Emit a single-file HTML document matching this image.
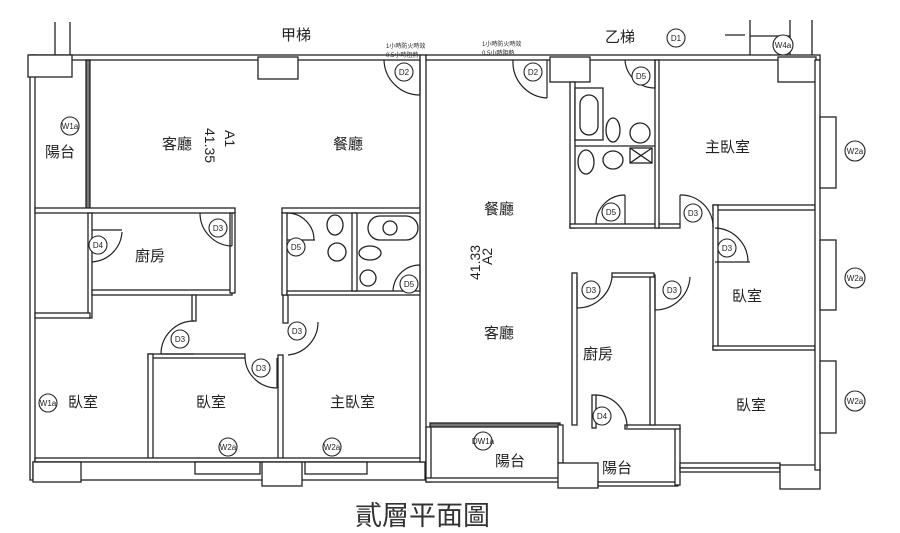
<!DOCTYPE html>
<html><head><meta charset="utf-8"><style>
html,body{margin:0;padding:0;background:#fff;}
svg{display:block}
text{font-family:"Liberation Sans","Noto Sans CJK TC",sans-serif;fill:#222}
.l{font-size:15px}
.c{font-size:8px;text-anchor:middle}
</style></head><body>
<svg width="900" height="533" viewBox="0 0 900 533" xmlns="http://www.w3.org/2000/svg">
<g fill="#fff" stroke="#222" stroke-width="1.3">
<!-- left unit -->
<rect x="30" y="55" width="392" height="5"/>
<rect x="30" y="55" width="5" height="425"/>
<rect x="28" y="55" width="44" height="22"/>
<line x1="55" y1="22" x2="55" y2="55"/><line x1="70" y1="22" x2="70" y2="55"/>
<rect x="86" y="60" width="4" height="150" fill="#777"/>
<rect x="258" y="57" width="40" height="22"/>
<rect x="35" y="208" width="200" height="5"/>
<rect x="88" y="213" width="4" height="105"/>
<rect x="35" y="313" width="55" height="5"/>
<rect x="92" y="290" width="140" height="5"/>
<rect x="230" y="213" width="5" height="80"/>
<rect x="192" y="295" width="4" height="26"/>
<rect x="148" y="354" width="97" height="4"/>
<rect x="148" y="354" width="5" height="106"/>
<rect x="278" y="355" width="5" height="105"/>
<rect x="283" y="295" width="5" height="28"/>
<rect x="35" y="458" width="390" height="4"/>
<rect x="33" y="462" width="392" height="18"/>
<rect x="33" y="462" width="48" height="20"/>
<rect x="195" y="462" width="65" height="12"/>
<rect x="262" y="462" width="40" height="24"/>
<rect x="305" y="462" width="62" height="12"/>
<!-- bath left -->
<rect x="282" y="208" width="140" height="5"/>
<rect x="282" y="213" width="5" height="82"/>
<rect x="287" y="291" width="135" height="4"/>
<rect x="352" y="213" width="5" height="78"/>
<rect x="420" y="55" width="6" height="407"/>
<!-- middle unit -->
<rect x="426" y="55" width="394" height="5"/>
<rect x="550" y="57" width="40" height="25"/>
<rect x="778" y="57" width="38" height="25"/>
<rect x="430" y="423" width="130" height="4" fill="#777"/>
<rect x="426" y="427" width="5" height="55"/>
<rect x="426" y="478" width="135" height="4"/>
<rect x="558" y="425" width="5" height="38"/>
<rect x="558" y="463" width="40" height="25"/>
<rect x="598" y="482" width="80" height="4"/>
<rect x="675" y="428" width="5" height="57"/>
<rect x="625" y="425" width="55" height="4"/>
<rect x="592" y="395" width="4" height="33"/>
<rect x="572" y="273" width="5" height="152"/>
<rect x="650" y="275" width="5" height="150"/>
<rect x="612" y="273" width="42" height="4"/>
<rect x="570" y="82" width="5" height="146"/>
<rect x="570" y="224" width="110" height="4"/>
<rect x="655" y="60" width="4" height="168"/>
<rect x="713" y="205" width="102" height="5"/>
<rect x="713" y="205" width="5" height="145"/>
<rect x="713" y="346" width="102" height="4"/>
<rect x="680" y="463" width="100" height="5"/>
<rect x="680" y="468" width="100" height="4"/>
<rect x="780" y="465" width="40" height="24"/>
<rect x="815" y="60" width="5" height="410"/>
<rect x="820" y="117" width="16" height="71"/>
<rect x="820" y="240" width="16" height="70"/>
<rect x="820" y="361" width="16" height="72"/>
<line x1="750" y1="20" x2="750" y2="55"/><line x1="790" y1="20" x2="790" y2="55"/><line x1="812" y1="20" x2="812" y2="55"/><line x1="750" y1="36" x2="790" y2="36"/><line x1="725" y1="35" x2="745" y2="35"/>
<!-- bath right fixtures -->
<rect x="575" y="88" width="28" height="52"/>
<rect x="580" y="95" width="18" height="40" rx="9"/>
<line x1="575" y1="146" x2="655" y2="146"/>
<ellipse cx="613" cy="130" rx="7" ry="12"/>
<circle cx="640" cy="133" r="10"/>
<ellipse cx="586" cy="162" rx="8" ry="12"/>
<ellipse cx="613" cy="160" rx="10" ry="9"/>
<rect x="630" y="148" width="22" height="15"/>
<line x1="630" y1="148" x2="652" y2="163"/><line x1="652" y1="148" x2="630" y2="163"/>
<!-- bath left fixtures -->
<ellipse cx="335" cy="225" rx="8" ry="10"/>
<rect x="368" y="216" width="50" height="24" rx="12"/>
<circle cx="390" cy="228" r="7"/>
<circle cx="337" cy="252" r="9"/>
<ellipse cx="370" cy="253" rx="11" ry="7"/>
<circle cx="368" cy="278" r="8"/>
</g>
<!-- doors -->
<g fill="none" stroke="#222" stroke-width="1.2">
<path d="M420 95 L420 60 M384 60 A36 36 0 0 0 420 95"/>
<path d="M547 60 L547 98 M513 60 A36 36 0 0 0 547 98"/>
<path d="M655 88 L655 60 M625 60 A30 30 0 0 0 655 88"/>
<path d="M625 224 L625 195 M596 224 A29 29 0 0 1 625 195"/>
<path d="M680 195 L680 224 M680 195 A32 32 0 0 1 713 228"/>
<path d="M715 262 L750 262 M715 228 A34 34 0 0 1 748 262"/>
<path d="M232 246 L232 213 M200 213 A33 33 0 0 0 232 246"/>
<path d="M92 230 L122 230 M92 262 A32 32 0 0 0 122 232"/>
<path d="M287 240 L315 240 M287 213 A27 27 0 0 1 314 240"/>
<path d="M420 265 L420 291 M393 291 A27 27 0 0 1 420 265"/>
<path d="M161 354 L194 354 M161 354 A33 33 0 0 1 194 321"/>
<path d="M288 355 L288 355 M288 355 A33 33 0 0 0 318 322"/>
<path d="M277 388 L277 358 M245 358 A32 32 0 0 0 277 388"/>
<path d="M577 308 L577 277 M612 277 A35 35 0 0 1 577 308"/>
<path d="M655 310 L655 277 M690 277 A35 35 0 0 1 655 310"/>
<path d="M596 395 L596 395 M596 395 A32 32 0 0 1 627 428"/>
</g>
<!-- circle tags -->
<g fill="#fff" stroke="#222" stroke-width="1.1">
<circle cx="404" cy="72" r="9"/><circle cx="533" cy="72" r="9"/><circle cx="641" cy="76" r="9"/><circle cx="611" cy="212" r="9"/>
<circle cx="693" cy="213" r="9"/><circle cx="727" cy="248" r="9"/><circle cx="218" cy="228" r="9"/><circle cx="98" cy="245" r="9"/>
<circle cx="296" cy="247" r="9"/><circle cx="409" cy="284" r="9"/><circle cx="180" cy="339" r="9"/><circle cx="297" cy="331" r="9"/>
<circle cx="261" cy="368" r="9"/><circle cx="591" cy="290" r="9"/><circle cx="672" cy="290" r="9"/><circle cx="602" cy="416" r="9"/>
<circle cx="70" cy="126" r="9"/><circle cx="48" cy="403" r="9"/><circle cx="228" cy="447" r="9"/><circle cx="332" cy="447" r="9"/>
<circle cx="855" cy="151" r="10"/><circle cx="855" cy="278" r="10"/><circle cx="855" cy="401" r="10"/><circle cx="483" cy="441" r="9"/>
<circle cx="783" cy="45" r="10"/><circle cx="676" cy="38" r="9"/>
</g>
<g class="c">
<text x="404" y="75" class="c">D2</text><text x="533" y="75" class="c">D2</text><text x="641" y="79" class="c">D5</text><text x="611" y="215" class="c">D5</text>
<text x="693" y="216" class="c">D3</text><text x="727" y="251" class="c">D3</text><text x="218" y="231" class="c">D3</text><text x="98" y="248" class="c">D4</text>
<text x="296" y="250" class="c">D5</text><text x="409" y="287" class="c">D5</text><text x="180" y="342" class="c">D3</text><text x="297" y="334" class="c">D3</text>
<text x="261" y="371" class="c">D3</text><text x="591" y="293" class="c">D3</text><text x="672" y="293" class="c">D3</text><text x="602" y="419" class="c">D4</text>
<text x="70" y="129" class="c">W1a</text><text x="48" y="406" class="c">W1a</text><text x="228" y="450" class="c">W2a</text><text x="332" y="450" class="c">W2a</text>
<text x="855" y="154" class="c">W2a</text><text x="855" y="281" class="c">W2a</text><text x="855" y="404" class="c">W2a</text><text x="483" y="444" class="c">DW1a</text>
<text x="783" y="48" class="c">W4a</text><text x="676" y="41" class="c">D1</text>
</g>
<g style="font-size:6px">
<text x="386" y="48">1小時防火時效</text><text x="386" y="57">0.5小時阻熱</text>
<text x="482" y="46">1小時防火時效</text><text x="482" y="55">0.5小時阻熱</text>
</g>
<g class="l">
<text x="281" y="40">甲梯</text><text x="605" y="42">乙梯</text>
<text x="45" y="157">陽台</text><text x="162" y="149">客廳</text><text x="333" y="149">餐廳</text>
<text x="135" y="261">廚房</text><text x="484" y="214">餐廳</text><text x="705" y="152">主臥室</text>
<text x="732" y="301">臥室</text><text x="68" y="407">臥室</text><text x="196" y="407">臥室</text><text x="330" y="407">主臥室</text>
<text x="484" y="338">客廳</text><text x="583" y="359">廚房</text><text x="736" y="410">臥室</text>
<text x="495" y="466">陽台</text><text x="602" y="473">陽台</text>
</g>
<text x="225" y="130" transform="rotate(90 225 130)" style="font-size:14px">A1</text>
<text x="205" y="128" transform="rotate(90 205 128)" style="font-size:14px">41.35</text>
<text x="492" y="265" transform="rotate(-90 492 265)" style="font-size:14px">A2</text>
<text x="480" y="280" transform="rotate(-90 480 280)" style="font-size:14px">41.33</text>
<text x="355" y="525" style="font-size:27px;fill:#333">貳層平面圖</text>
</svg>
</body></html>
